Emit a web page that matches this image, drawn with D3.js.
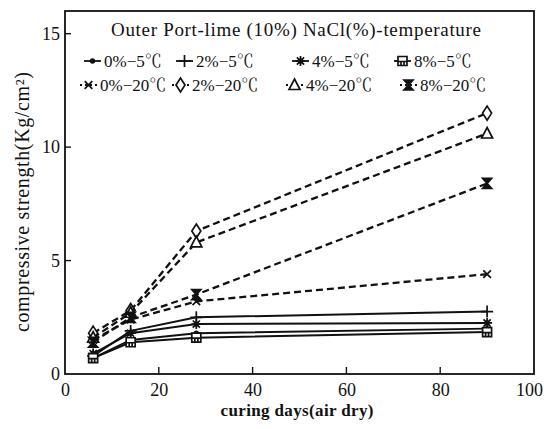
<!DOCTYPE html>
<html>
<head>
<meta charset="utf-8">
<script src="https://cdn.jsdelivr.net/npm/d3@7"></script>
<style>
  body { margin: 0; background: #fff; }
  svg { display: block; }
  text { font-family: "Liberation Serif", "Noto Serif CJK SC", "Noto Sans CJK SC", serif; fill: #111; }
</style>
</head>
<body>
<div id="chart"></div>
<script>
// curing days (x) and compressive strength per series (Kg/cm²)
const days = [6, 14, 28, 90];
const series0m5 = [0.7, 1.5, 1.8, 2.0];
const series2m5 = [0.8, 1.9, 2.5, 2.75];
const series4m5 = [0.9, 1.8, 2.2, 2.25];
const series8m5 = [0.7, 1.4, 1.6, 1.85];
const series0m20 = [1.5, 2.4, 3.2, 4.4];
const series2m20 = [1.8, 2.8, 6.3, 11.5];
const series4m20 = [1.6, 2.7, 5.8, 10.6];
const series8m20 = [1.4, 2.5, 3.5, 8.4];

const seriesLabels = ['0%−5℃', '2%−5℃', '4%−5℃', '8%−5℃', '0%−20℃', '2%−20℃', '4%−20℃', '8%−20℃'];
const seriesMarkers = ['dot', 'plus', 'star', 'square', 'cross', 'diamond', 'triangle', 'hourglass'];
const xTicks = [0, 20, 40, 60, 80, 100];
const yTicks = [0, 5, 10, 15];

const seriesValues = [series0m5, series2m5, series4m5, series8m5,
  series0m20, series2m20, series4m20, series8m20];
const series = seriesValues.map((values, i) => ({
  label: seriesLabels[i],
  marker: seriesMarkers[i],
  dashed: i >= 4,
  points: values.map((v, j) => ({day: days[j], value: v}))
}));

const width = 544;
const height = 429;
const margin = {top: 11, right: 10, bottom: 55, left: 65};

const svg = d3.select('#chart').append('svg')
  .attr('width', width)
  .attr('height', height);

const x = d3.scaleLinear().domain([0, 100]).range([margin.left, width - margin.right]);
const y = d3.scaleLinear().domain([0, 16]).range([height - margin.bottom, margin.top]);

drawFrame();
drawAxes();
drawSeries();
drawLegend();

function drawFrame() {
  svg.append('rect')
    .attr('x', x(0))
    .attr('y', y(16))
    .attr('width', x(100) - x(0))
    .attr('height', y(0) - y(16))
    .attr('fill', 'none')
    .attr('stroke', '#111')
    .attr('stroke-width', 1.8);
}

function drawAxes() {
  const xAxis = svg.append('g')
    .attr('transform', 'translate(0,' + y(0) + ')')
    .call(d3.axisBottom(x).tickValues(xTicks).tickSize(0).tickPadding(9).tickFormat(d3.format('d')));
  const yAxis = svg.append('g')
    .attr('transform', 'translate(' + x(0) + ',0)')
    .call(d3.axisLeft(y).tickValues(yTicks).tickSize(0).tickPadding(5).tickFormat(d3.format('d')));

  [xAxis, yAxis].forEach(a => {
    a.select('.domain').remove();
    a.selectAll('text').attr('font-size', 18).attr('font-family', null).attr('fill', '#111');
  });
  // last x label sits right against the page edge
  xAxis.selectAll('.tick').filter(d => d === 100).select('text').attr('dx', -5);

  // inward tick marks
  svg.selectAll('.xtick').data(xTicks.slice(1, -1)).enter()
    .append('line')
    .attr('x1', d => x(d)).attr('x2', d => x(d))
    .attr('y1', y(0)).attr('y2', y(0) - 7)
    .attr('stroke', '#111').attr('stroke-width', 1.4);
  svg.selectAll('.ytick').data(yTicks.slice(1)).enter()
    .append('line')
    .attr('x1', x(0)).attr('x2', x(0) + 6)
    .attr('y1', d => y(d)).attr('y2', d => y(d))
    .attr('stroke', '#111').attr('stroke-width', 1.4);

  svg.append('text')
    .attr('x', 297)
    .attr('y', 416)
    .attr('text-anchor', 'middle')
    .attr('font-size', 17)
    .attr('font-weight', 'bold')
    .attr('textLength', 153)
    .text('curing days(air dry)');

  svg.append('text')
    .attr('transform', 'translate(29,202) rotate(-90)')
    .attr('text-anchor', 'middle')
    .attr('font-size', 20)
    .attr('textLength', 260)
    .text('compressive strength(Kg/cm²)');
}

function markerPath(type) {
  switch (type) {
    case 'dot': return 'M-1.8,0a1.8,1.8 0 1,0 3.6,0a1.8,1.8 0 1,0 -3.6,0';
    case 'plus': return 'M-6,0H6M0,-6V6';
    case 'star': return 'M-5,0H5M0,-5V5M-3.6,-3.6L3.6,3.6M-3.6,3.6L3.6,-3.6';
    case 'square': return 'M-4.5,-4.5H4.5V4.5H-4.5ZM-4.5,0.5H4.5M-1.5,0.5V4.5M1.5,0.5V4.5';
    case 'cross': return 'M-3.8,-3.8L3.8,3.8M-3.8,3.8L3.8,-3.8';
    case 'diamond': return 'M0,-7L4.5,0L0,7L-4.5,0Z';
    case 'triangle': return 'M0,-6L5.5,4.5H-5.5Z';
    case 'hourglass': return 'M-4.5,-5H4.5L-4.5,5H4.5Z';
  }
}

function addMarker(g, type, cx, cy) {
  const filled = type === 'hourglass' || type === 'dot';
  const m = g.append('path')
    .attr('d', markerPath(type))
    .attr('transform', 'translate(' + cx + ',' + cy + ')')
    .attr('stroke', '#111')
    .attr('stroke-width', 1.7)
    .attr('fill', filled ? '#111' : (type === 'square' || type === 'diamond' || type === 'triangle' ? '#fff' : 'none'));
  if (type === 'star') {
    g.append('circle').attr('cx', cx).attr('cy', cy).attr('r', 2.6).attr('fill', '#111');
  }
  return m;
}

function drawSeries() {
  const line = d3.line()
    .x(d => x(d.day))
    .y(d => y(d.value));

  const groups = svg.selectAll('.series')
    .data(series)
    .enter()
    .append('g')
    .attr('class', 'series');

  groups.append('path')
    .attr('d', d => line(d.points))
    .attr('fill', 'none')
    .attr('stroke', '#111')
    .attr('stroke-width', d => d.dashed ? 2.3 : 2)
    .attr('stroke-dasharray', d => d.dashed ? '7,4' : null);

  groups.each(function(d) {
    const g = d3.select(this);
    d.points.forEach(p => addMarker(g, d.marker, x(p.day), y(p.value)));
  });
}

function drawLegend() {
  const legend = svg.append('g').attr('class', 'legend');
  legend.append('text')
    .attr('x', 296)
    .attr('y', 36)
    .attr('text-anchor', 'middle')
    .attr('font-size', 19)
    .attr('textLength', 370)
    .text('Outer Port-lime (10%) NaCl(%)-temperature');

  const colX = [[84, 176, 292, 394], [80, 172, 286, 400]];
  const rowY = [61, 85];

  series.forEach((s, i) => {
    const row = Math.floor(i / 4);
    const cx = colX[row][i % 4];
    const cy = rowY[row];
    const item = legend.append('g');
    item.append('line')
      .attr('x1', cx).attr('x2', cx + 17)
      .attr('y1', cy).attr('y2', cy)
      .attr('stroke', '#111')
      .attr('stroke-width', 1.8)
      .attr('stroke-dasharray', s.dashed ? '2,3' : null);
    addMarker(item, s.marker, cx + 8.5, cy);
    item.append('text')
      .attr('x', cx + 20)
      .attr('y', cy + 6)
      .attr('font-size', 17)
      .text(s.label);
  });
}
</script>
</body>
</html>
